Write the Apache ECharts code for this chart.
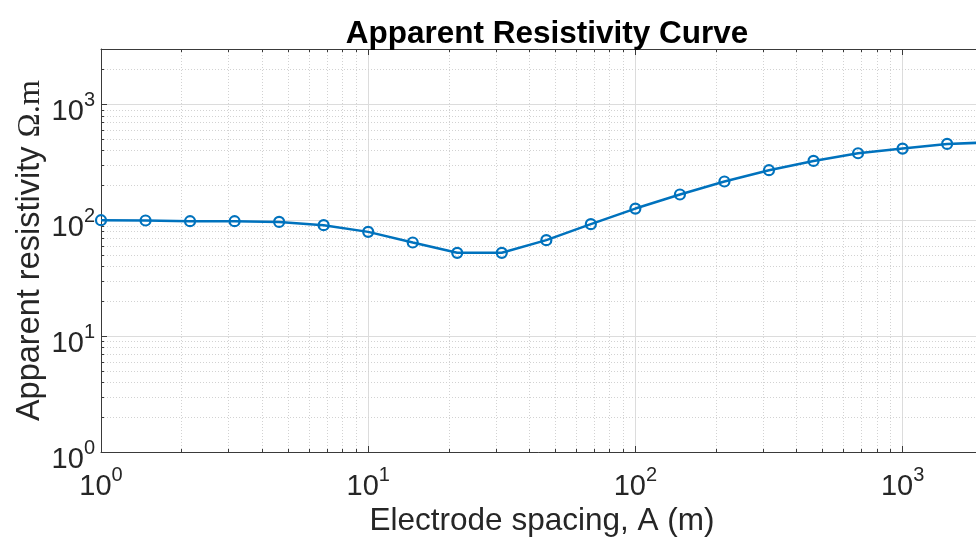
<!DOCTYPE html>
<html>
<head>
<meta charset="utf-8">
<script src="https://cdn.jsdelivr.net/npm/echarts@6/dist/echarts.min.js"></script>
<style>
  html, body { margin: 0; padding: 0; background: #fff; }
  #chart { width: 976px; height: 545px; }
</style>
</head>
<body>
<div id="chart"></div>
<script>
// Electrode spacing A (m) and measured apparent resistivity (ohm.m)
const spacing = [1, 1.468, 2.154, 3.162, 4.642, 6.813, 10, 14.68, 21.54, 31.62, 46.42,
                 68.13, 100, 146.8, 215.4, 316.2, 464.2, 681.3, 1000, 1468, 2154];
const resistivity = [100, 99.4, 98, 98, 96.7, 90.6, 79.3, 64.2, 52.3, 52.3, 67.3,
                     92.4, 126, 166.6, 215.7, 270, 324.6, 378, 415, 455, 470];

const xRange = [1, 2000];
const yRange = [1, 3000];

const titleText = 'Apparent Resistivity Curve';
const xName = 'Electrode spacing, A (m)';
const yName = 'Apparent resistivity ';
const yUnit = 'Ω.m';

// minor (2..9 x 10^k) grid positions strictly inside each range
function minorValues(range) {
  const out = [];
  for (let k = -1; k <= 4; k++) {
    for (let m = 2; m <= 9; m++) {
      const v = m * Math.pow(10, k);
      if (v > range[0] && v < range[1]) out.push(v);
    }
  }
  return out;
}
const xMinor = minorValues(xRange);
const yMinor = minorValues(yRange);

const FONT = '"Liberation Sans", Arial, Helvetica, sans-serif';
const TXT = '#262626';
const AX = '#3a3a3a';
const MAJOR_GRID = '#dcdcdc';
const MINOR_GRID = '#d2d2d2';
const BLUE = '#0072BD';

function powLabel(v) {
  const e = Math.round(Math.log10(v));
  if (Math.abs(Math.pow(10, e) - v) > 1e-6 * v) return '';
  return '{b|10}{e|' + e + '}';
}
const powRich = {
  b: { fontFamily: FONT, fontSize: 29, color: TXT, lineHeight: 36, verticalAlign: 'bottom' },
  e: { fontFamily: FONT, fontSize: 20, color: TXT, lineHeight: 20, verticalAlign: 'top' }
};

const crisp = v => Math.round(v) + 0.5;

const chart = echarts.init(document.getElementById('chart'), null, { renderer: 'canvas' });

chart.setOption({
  backgroundColor: '#fff',
  animation: false,
  title: {
    text: titleText,
    left: 542, top: 13, textAlign: 'center',
    textStyle: { fontFamily: FONT, fontSize: 31.5, fontWeight: 'bold', color: '#000' }
  },
  grid: { left: 101, top: 49, width: 882, height: 403, containLabel: false,
          outerBoundsMode: 'none' },
  xAxis: [{
    type: 'log', logBase: 10, min: xRange[0], max: xRange[1],
    position: 'bottom',
    name: xName, nameLocation: 'middle', nameGap: 53, nameMoveOverlap: false,
    nameTextStyle: { fontFamily: FONT, fontSize: 31.5, color: TXT },
    axisLine: { show: true, lineStyle: { color: AX, width: 1 } },
    axisTick: { show: true, inside: true, length: 6, lineStyle: { color: AX } },
    axisLabel: { formatter: powLabel, rich: powRich, margin: 13, showMaxLabel: false },
    splitLine: { show: true, lineStyle: { color: MAJOR_GRID, width: 1 } },
    minorTick: { show: false }
  }, {
    type: 'log', logBase: 10, min: xRange[0], max: xRange[1],
    position: 'top',
    axisLine: { show: true, lineStyle: { color: AX, width: 1 } },
    axisTick: { show: true, inside: true, length: 6, lineStyle: { color: AX } },
    axisLabel: { show: false },
    splitLine: { show: false }
  }],
  yAxis: [{
    type: 'log', logBase: 10, min: yRange[0], max: yRange[1],
    position: 'left',
    name: '{n|' + yName + '}{u|' + yUnit + '}',
    nameLocation: 'middle', nameGap: 54, nameRotate: 90, nameMoveOverlap: false,
    nameTextStyle: {
      rich: {
        n: { fontFamily: FONT, fontSize: 32.5, color: TXT },
        u: { fontFamily: '"Liberation Serif", "Times New Roman", serif', fontSize: 32.5, color: TXT }
      }
    },
    axisLine: { show: true, lineStyle: { color: AX, width: 1 } },
    axisTick: { show: true, inside: true, length: 6, lineStyle: { color: AX } },
    axisLabel: { formatter: powLabel, rich: powRich, margin: 6, showMaxLabel: false,
                 padding: [8, 0, 0, 0] },
    splitLine: { show: true, lineStyle: { color: MAJOR_GRID, width: 1 } }
  }],
  series: [
    {
      // vertical minor grid + minor ticks on bottom/top edges
      type: 'custom', xAxisIndex: 0, yAxisIndex: 0, silent: true, z: 1,
      data: xMinor.map(v => [v, yRange[0]]),
      renderItem(params, api) {
        const cs = params.coordSys;
        const x = crisp(api.coord([api.value(0), yRange[0]])[0]);
        const top = cs.y, bot = cs.y + cs.height;
        return {
          type: 'group', children: [
            { type: 'line', shape: { x1: x, y1: top, x2: x, y2: bot },
              style: { stroke: MINOR_GRID, lineWidth: 1, lineDash: [1, 2] } },
            { type: 'line', shape: { x1: x, y1: bot, x2: x, y2: bot - 3 },
              style: { stroke: AX, lineWidth: 1 } },
            { type: 'line', shape: { x1: x, y1: top, x2: x, y2: top + 3 },
              style: { stroke: AX, lineWidth: 1 } }
          ]
        };
      }
    },
    {
      // horizontal minor grid + minor ticks on the left edge
      type: 'custom', xAxisIndex: 0, yAxisIndex: 0, silent: true, z: 1,
      data: yMinor.map(v => [xRange[0], v]),
      renderItem(params, api) {
        const cs = params.coordSys;
        const y = crisp(api.coord([xRange[0], api.value(1)])[1]);
        const left = cs.x, right = cs.x + cs.width;
        return {
          type: 'group', children: [
            { type: 'line', shape: { x1: left, y1: y, x2: right, y2: y },
              style: { stroke: MINOR_GRID, lineWidth: 1, lineDash: [1, 2] } },
            { type: 'line', shape: { x1: left, y1: y, x2: left + 3, y2: y },
              style: { stroke: AX, lineWidth: 1 } }
          ]
        };
      }
    },
    {
      type: 'line', xAxisIndex: 0, yAxisIndex: 0, z: 5,
      data: spacing.map((a, i) => [a, resistivity[i]]),
      symbol: 'circle', symbolSize: 10, showAllSymbol: true,
      lineStyle: { color: BLUE, width: 2.5 },
      itemStyle: { color: 'rgba(0,0,0,0)', borderColor: BLUE, borderWidth: 2.2 },
      clip: true
    }
  ]
});
</script>
</body>
</html>
